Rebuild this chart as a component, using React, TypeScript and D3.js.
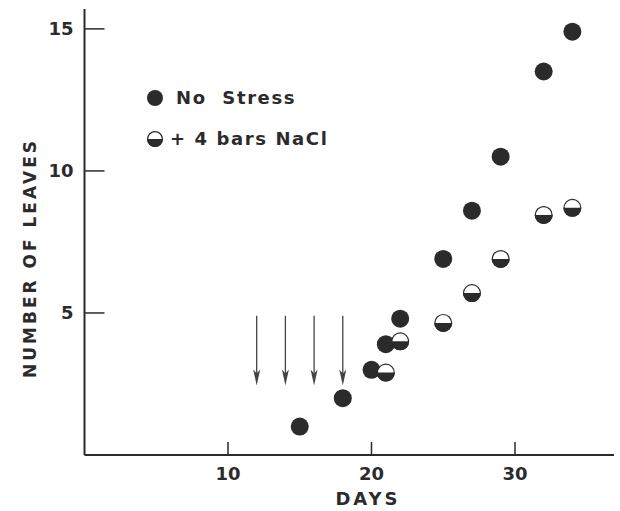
import React, { useEffect, useRef } from "react";
import * as d3 from "d3";

// days after planting vs. leaf count
const noStressDays = [15, 18, 20, 21, 22, 25, 27, 29, 32, 34];
const noStressLeaves = [1, 2, 3, 3.9, 4.8, 6.9, 8.6, 10.5, 13.5, 14.9];
const naclDays = [21, 22, 25, 27, 29, 32, 34];
const naclLeaves = [2.9, 4.0, 4.65, 5.7, 6.9, 8.45, 8.7];
const arrowDays = [12, 14, 16, 18];
const xTicks = [10, 20, 30];
const yTicks = [5, 10, 15];
const legendLabels = ["No  Stress", "+ 4 bars NaCl"];

const W = 620;
const H = 511;
const INK = "#2b2b2b";
const FONT = "'DejaVu Sans', sans-serif";

function App() {
  const ref = useRef<SVGSVGElement>(null);

  useEffect(() => {
    const svg = d3.select(ref.current);
    svg.selectAll("*").remove();

    const x = d3.scaleLinear().domain([0, 36.9]).range([84.5, 614]);
    const y = d3.scaleLinear().domain([0, 15.7]).range([455, 9]);

    const g = svg.append("g");

    // axes lines
    g.append("line")
      .attr("x1", x(0)).attr("x2", x(0))
      .attr("y1", y(0)).attr("y2", y(15.7))
      .attr("stroke", INK).attr("stroke-width", 2);
    g.append("line")
      .attr("x1", x(0)).attr("x2", x(36.9))
      .attr("y1", y(0)).attr("y2", y(0))
      .attr("stroke", INK).attr("stroke-width", 2);

    // y ticks (pointing inward)
    yTicks.forEach(t => {
      g.append("line")
        .attr("x1", x(0)).attr("x2", x(0) + 20)
        .attr("y1", y(t)).attr("y2", y(t))
        .attr("stroke", INK).attr("stroke-width", 1.5);
      g.append("text")
        .attr("x", x(0) - 11).attr("y", y(t))
        .attr("dy", "0.36em")
        .attr("text-anchor", "end")
        .attr("font-family", FONT).attr("font-weight", "bold")
        .attr("font-size", 18).attr("fill", INK)
        .text(t);
    });

    // x ticks (pointing up)
    xTicks.forEach(t => {
      g.append("line")
        .attr("x1", x(t)).attr("x2", x(t))
        .attr("y1", y(0)).attr("y2", y(0) - 13)
        .attr("stroke", INK).attr("stroke-width", 1.5);
      g.append("text")
        .attr("x", x(t)).attr("y", 480)
        .attr("text-anchor", "middle")
        .attr("font-family", FONT).attr("font-weight", "bold")
        .attr("font-size", 18).attr("fill", INK)
        .text(t);
    });

    // axis titles
    g.append("text")
      .attr("x", 368).attr("y", 505)
      .attr("text-anchor", "middle")
      .attr("font-family", FONT).attr("font-weight", "bold")
      .attr("font-size", 18).attr("letter-spacing", 3).attr("fill", INK)
      .text("DAYS");
    g.append("text")
      .attr("transform", "translate(36,258) rotate(-90)")
      .attr("text-anchor", "middle")
      .attr("font-family", FONT).attr("font-weight", "bold")
      .attr("font-size", 17).attr("letter-spacing", 3).attr("fill", INK)
      .text("NUMBER OF LEAVES");

    // treatment arrows
    arrowDays.forEach(d => {
      g.append("line")
        .attr("x1", x(d)).attr("x2", x(d))
        .attr("y1", y(4.9)).attr("y2", y(2.45) - 6)
        .attr("stroke", "#444").attr("stroke-width", 1.3);
      g.append("path")
        .attr("d", `M${x(d) - 3.5},${y(2.45) - 16} L${x(d)},${y(2.45)} L${x(d) + 3.5},${y(2.45) - 16} L${x(d)},${y(2.45) - 12} Z`)
        .attr("fill", "#444");
    });

    const R = 9;
    const filled = (sel: d3.Selection<SVGGElement, unknown, null, undefined>, cx: number, cy: number, r: number) => {
      sel.append("circle").attr("cx", cx).attr("cy", cy).attr("r", r).attr("fill", INK);
    };
    const half = (sel: d3.Selection<SVGGElement, unknown, null, undefined>, cx: number, cy: number, r: number) => {
      sel.append("circle").attr("cx", cx).attr("cy", cy).attr("r", r - 0.6)
        .attr("fill", "#fff").attr("stroke", INK).attr("stroke-width", 1.2);
      const arc = d3.arc()({ innerRadius: 0, outerRadius: r, startAngle: Math.PI / 2, endAngle: Math.PI * 1.5 } as any);
      sel.append("path").attr("d", arc as string)
        .attr("transform", `translate(${cx},${cy})`)
        .attr("fill", INK);
    };

    const pts = g.append("g");
    noStressDays.forEach((d, i) => filled(pts, x(d), y(noStressLeaves[i]), R));
    naclDays.forEach((d, i) => half(pts, x(d), y(naclLeaves[i]), R));

    // legend
    const lg = g.append("g");
    filled(lg, 155, 98, 8);
    half(lg, 155, 139, 8);
    lg.append("text")
      .attr("x", 176).attr("y", 98).attr("dy", "0.36em")
      .attr("font-family", FONT).attr("font-weight", "bold")
      .attr("font-size", 18).attr("letter-spacing", 1.6).attr("fill", INK)
      .attr("xml:space", "preserve")
      .text(legendLabels[0]);
    lg.append("text")
      .attr("x", 170).attr("y", 139).attr("dy", "0.36em")
      .attr("font-family", FONT).attr("font-weight", "bold")
      .attr("font-size", 18).attr("letter-spacing", 1.6).attr("fill", INK)
      .attr("xml:space", "preserve")
      .text(legendLabels[1]);
  }, []);

  return (
    <svg ref={ref} width={W} height={H} style={{ display: "block", position: "absolute", left: 0, top: 0, background: "#fff" }} />
  );
}

export default App;
